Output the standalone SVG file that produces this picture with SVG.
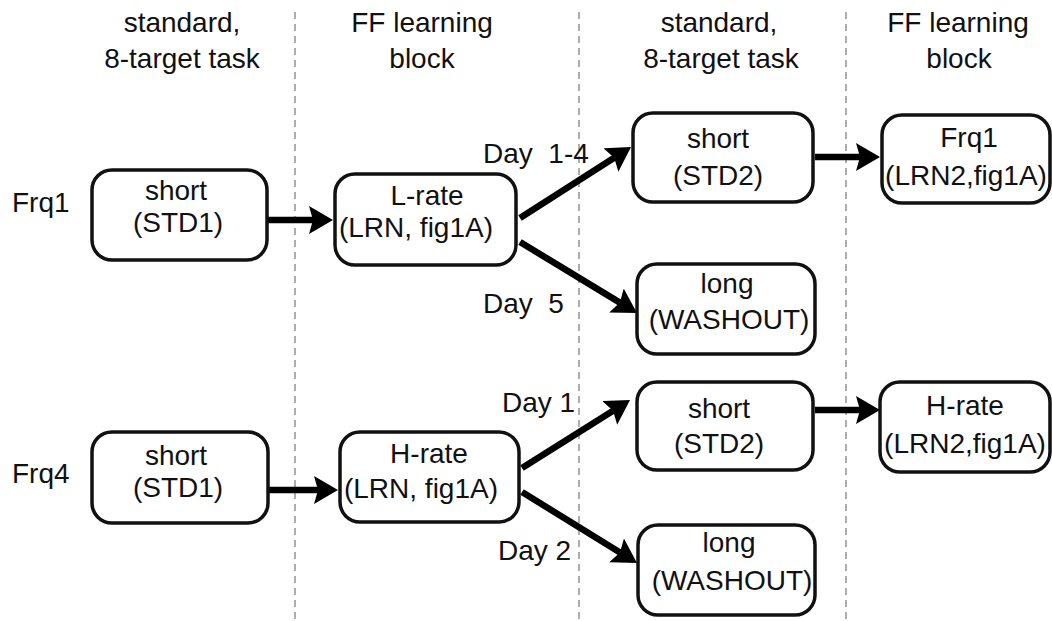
<svg xmlns="http://www.w3.org/2000/svg" width="1052" height="621" viewBox="0 0 1052 621">
<style>
text{font-family:"Liberation Sans",Arial,sans-serif;font-size:28px;fill:#111;text-anchor:middle}
.box{fill:#fff;stroke:#111;stroke-width:3.5}
.div{stroke:#999;stroke-width:1.6;stroke-dasharray:7 5;fill:none}
.arr{stroke:#000;stroke-width:6.5;fill:none;marker-end:url(#ah)}
.lbl{text-anchor:start}
</style>
<defs>
<marker id="ah" markerUnits="userSpaceOnUse" markerWidth="30" markerHeight="30" refX="4" refY="14" orient="auto" viewBox="0 0 30 30">
<path d="M0,0 L24,14 L0,28 L4,14 z" fill="#000"/>
</marker>
</defs>
<rect width="1052" height="621" fill="#fff"/>
<g id="dividers">
<line class="div" x1="295" y1="12" x2="295" y2="621"/>
<line class="div" x1="579" y1="12" x2="579" y2="621"/>
<line class="div" x1="846" y1="12" x2="846" y2="621"/>
</g>
<g id="headers">
<text x="182" y="32">standard,</text>
<text x="182" y="68">8-target task</text>
<text x="422" y="32">FF learning</text>
<text x="422" y="68">block</text>
<text x="719" y="32">standard,</text>
<text x="721" y="68">8-target task</text>
<text x="958" y="32">FF learning</text>
<text x="959" y="68">block</text>
</g>
<g id="row-labels">
<text class="lbl" x="12" y="212">Frq1</text>
<text class="lbl" x="12" y="483">Frq4</text>
</g>
<g id="connectors">
<line class="arr" x1="268" y1="220" x2="313" y2="220"/>
<line class="arr" x1="268" y1="490" x2="318" y2="490"/>
<line class="arr" x1="520" y1="218" x2="614.2" y2="157.8"/>
<line class="arr" x1="520" y1="242" x2="619.9" y2="302.6"/>
<line class="arr" x1="522" y1="468" x2="613.1" y2="410.7"/>
<line class="arr" x1="522" y1="492" x2="620" y2="552.5"/>
<line class="arr" x1="815" y1="157" x2="860" y2="157"/>
<line class="arr" x1="815" y1="410" x2="860" y2="410"/>
<text class="lbl" x="483" y="163" xml:space="preserve">Day  1-4</text>
<text class="lbl" x="483" y="313" xml:space="preserve">Day  5</text>
<text class="lbl" x="502" y="412">Day 1</text>
<text class="lbl" x="498" y="560">Day 2</text>
</g>
<g id="std1-frq1">
<rect class="box" x="92" y="170" width="175" height="90" rx="20"/>
<text x="176" y="200">short</text>
<text x="178" y="232">(STD1)</text>
</g>
<g id="lrn-frq1">
<rect class="box" x="335" y="174" width="181" height="91" rx="20"/>
<text x="427" y="205">L-rate</text>
<text x="416" y="237">(LRN, fig1A)</text>
</g>
<g id="std2-frq1">
<rect class="box" x="633" y="113" width="180" height="89" rx="20"/>
<text x="718" y="148">short</text>
<text x="718" y="185">(STD2)</text>
</g>
<g id="lrn2-frq1">
<rect class="box" x="882" y="115" width="168" height="88" rx="20"/>
<text x="969" y="147">Frq1</text>
<text x="966" y="185">(LRN2,fig1A)</text>
</g>
<g id="washout-frq1">
<rect class="box" x="637" y="264" width="178" height="90" rx="20"/>
<text x="727" y="293">long</text>
<text x="729" y="329">(WASHOUT)</text>
</g>
<g id="std1-frq4">
<rect class="box" x="92" y="432" width="176" height="91" rx="20"/>
<text x="176" y="465">short</text>
<text x="178" y="497">(STD1)</text>
</g>
<g id="lrn-frq4">
<rect class="box" x="340" y="432" width="179" height="90" rx="20"/>
<text x="429" y="463">H-rate</text>
<text x="421" y="498">(LRN, fig1A)</text>
</g>
<g id="std2-frq4">
<rect class="box" x="637" y="382" width="176" height="88" rx="20"/>
<text x="719" y="418">short</text>
<text x="719" y="453">(STD2)</text>
</g>
<g id="lrn2-frq4">
<rect class="box" x="880" y="382" width="170" height="90" rx="20"/>
<text x="965" y="415">H-rate</text>
<text x="965" y="453">(LRN2,fig1A)</text>
</g>
<g id="washout-frq4">
<rect class="box" x="638" y="525" width="177" height="90" rx="20"/>
<text x="729" y="552">long</text>
<text x="732" y="590">(WASHOUT)</text>
</g>
</svg>
